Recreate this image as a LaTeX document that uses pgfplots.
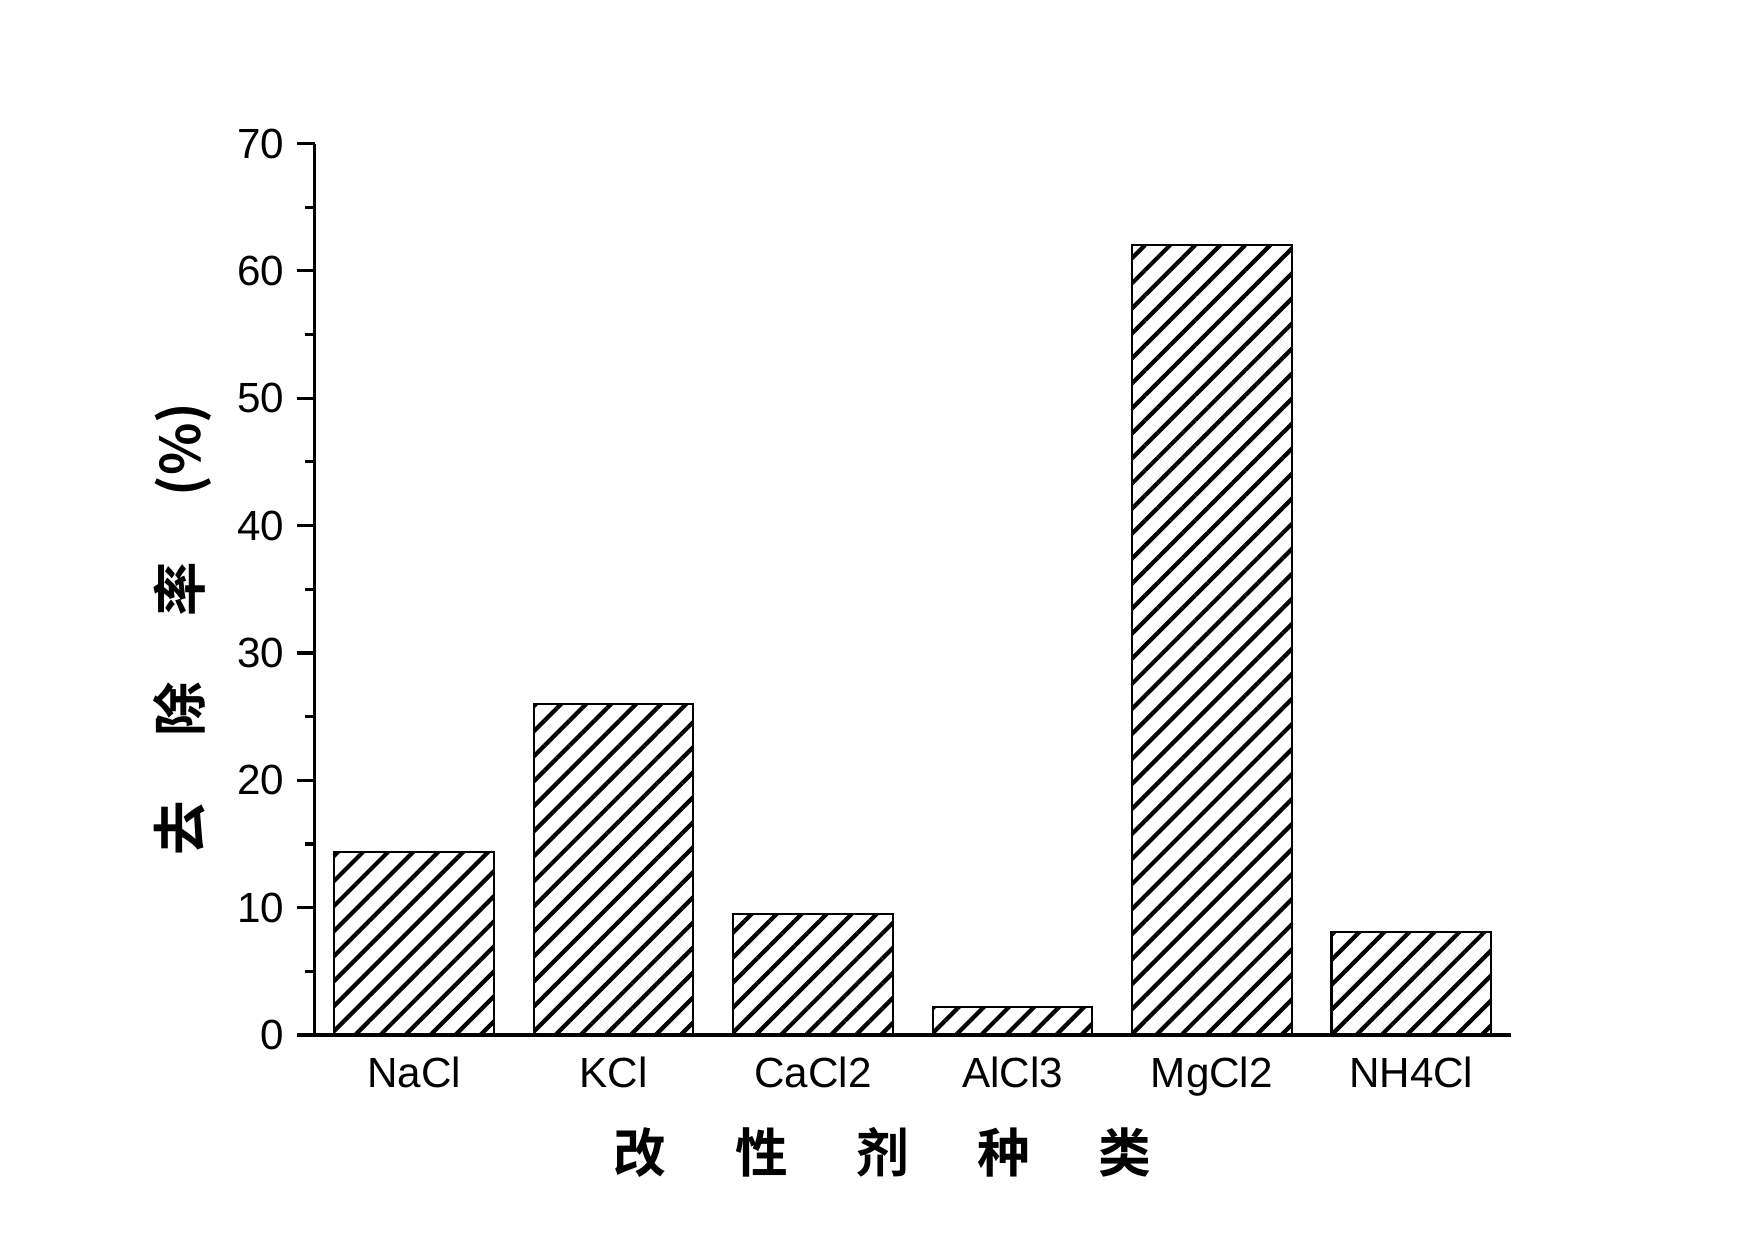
\documentclass[border=0pt]{standalone}
\usepackage{fontspec}
\setmainfont{Liberation Sans}
\newfontfamily\cjk{Noto Sans CJK SC}[BoldFont={* Bold}]
\usepackage{pgfplots}
\pgfplotsset{compat=1.18}
\usetikzlibrary{patterns.meta}

\begin{document}
\begin{tikzpicture}
\path[use as bounding box] (0,0) rectangle (175.5mm,124mm);
\begin{axis}[
    at={(31.45mm,20.5mm)}, anchor=south west,
    scale only axis,
    width=119.65mm, height=89.15mm,
    xmin=-0.5, xmax=5.5,
    ymin=0, ymax=70,
    axis lines=left,
    axis line style={-, line width=1pt},
    xtick=data,
    xticklabels={NaCl, KCl, CaCl2, AlCl3, MgCl2, NH4Cl},
    x tick style={draw=none},
    xticklabel style={yshift=0.8mm},
    ytick={0,10,...,70},
    minor y tick num=1,
    tick align=outside,
    major tick length=1.8mm,
    minor tick length=1mm,
    y tick style={line width=0.9pt, black},
    ticklabel style={font=\fontsize{12}{14}\selectfont},
    /pgf/number format/assume math mode=true,
    xlabel={\cjk\bfseries 改\hspace{1.3em}性\hspace{1.3em}剂\hspace{1.3em}种\hspace{1.3em}类},
    xlabel style={at={(axis description cs:0.475,-0.132)}, anchor=center, font=\fontsize{15}{18}\selectfont},
    ylabel={\cjk\bfseries 去\hspace{1.2em}除\hspace{1.2em}率\hspace{1.2em}(\%)},
    ylabel style={at={(axis description cs:-0.11,0.455)}, anchor=center, font=\fontsize{15.5}{18}\selectfont},
]
\addplot[ybar, bar width=0.8, draw=black, line width=0.6pt,
    pattern={Lines[angle=45, distance=1.77mm, line width=1.2pt]}]
    coordinates {(0,14.4) (1,26.0) (2,9.5) (3,2.2) (4,62.0) (5,8.1)};
\end{axis}
\end{tikzpicture}
\end{document}
